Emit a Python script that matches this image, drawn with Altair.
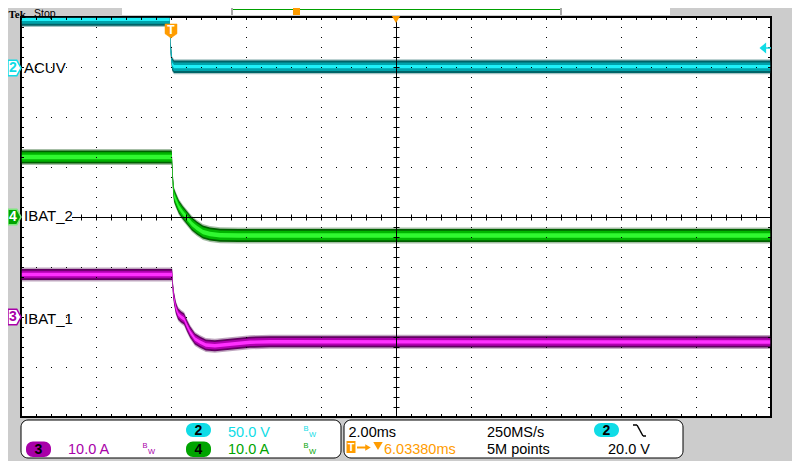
import altair as alt
import pandas as pd

# ---------------- scope settings ----------------
T_LEFT, T_RIGHT = -4.0, 16.0          # ms relative to trigger, 2.00 ms/div, 10 div
T_CENTER = 6.0                        # ms at screen centre (delay 6.03380 ms)
DIV_MIN, DIV_MAX = -4, 4              # 8 vertical divisions
H_GRID = [-3, -2, -1, 1, 2, 3]
T_GRID = [-2.0, 0.0, 2.0, 4.0, 8.0, 10.0, 12.0, 14.0]

CH_NAMES = ["ACUV", "IBAT_2", "IBAT_1"]
CH_NUMS = ["2", "4", "3"]
CH_SCALE = [50.0, 10.0, 10.0]         # V/div, A/div, A/div
CH_OFFSET = [2.98, 0.0, -2.0]         # ground marker position in divisions
TRIG_LEVEL = 20.0                     # V on channel 2

# channel 2 : ACUV (V)
acuv_t = [-4.0, -0.04, -0.01, 0.03, 0.08, 16.0]
acuv_v = [48.5, 48.5, 20.0, 4.0, 1.3, 1.3]
# channel 4 : IBAT_2 (A)
ibat2_t = [-4.0, 0.02, 0.05, 0.08, 0.13, 0.21, 0.32, 0.43, 0.56, 0.69, 0.85, 1.04, 1.31, 1.8, 16.0]
ibat2_a = [12.0, 12.0, 7.0, 4.4, 3.4, 2.0, 0.8, -0.2, -1.4, -2.2, -3.0, -3.4, -3.65, -3.7, -3.7]
# channel 3 : IBAT_1 (A)
ibat1_t = [-4.0, 0.03, 0.05, 0.08, 0.13, 0.19, 0.27, 0.35, 0.43, 0.51, 0.64, 0.77, 0.93, 1.17, 1.57, 2.11, 2.64, 16.0]
ibat1_a = [8.5, 8.5, 5.8, 3.8, 1.8, 0.6, 0.0, -0.4, -1.8, -3.0, -4.4, -5.0, -5.6, -5.75, -5.45, -5.05, -4.95, -5.0]

# readout texts
RO_CH2 = "50.0 V"
RO_CH3 = "10.0 A"
RO_CH4 = "10.0 A"
RO_TB = "2.00ms"
RO_RATE = "250MS/s"
RO_DELAY = "6.03380ms"
RO_POINTS = "5M points"
RO_TRIG = "20.0 V"

# ---------------- styles ----------------
SANS = "Liberation Sans, Arial, sans-serif"
PX_PER_DIV = 50.0
# half band thickness in px: haze, outer, mid, core
BAND_PX = {"ACUV": (7.5, 6.2, 4.2, 1.6), "IBAT_2": (8.0, 6.6, 4.8, 2.2), "IBAT_1": (7.0, 5.6, 3.8, 1.7)}
BAND_COL = {"ACUV": ("#005555", "#006468", "#00a2aa", "#1ff0f8"),
            "IBAT_2": ("#004400", "#006000", "#00b400", "#30f830"),
            "IBAT_1": ("#480048", "#620062", "#b000b0", "#ff30ff")}
BAND_OP = (0.35, 1.0, 1.0, 1.0)
CYAN, GREEN, MAG, ORANGE = "#10dce6", "#00a400", "#a800a8", "#ff9c00"

X0, Y0 = 21, 17            # page pixel of plot origin
W, H = 750, 400


def px(X):
    return X - X0


def py(Y):
    return Y - Y0


ONE = pd.DataFrame({"k": [0]})
XS = alt.Scale(domain=[T_LEFT, T_RIGHT], nice=False, zero=False)
YS = alt.Scale(domain=[DIV_MIN, DIV_MAX], nice=False, zero=False)


def text(s, X, Y, color="black", size=14.5, weight="normal", align="left",
         baseline="alphabetic", font=SANS):
    return alt.Chart(ONE).mark_text(text=s, align=align, baseline=baseline, font=font,
                                    fontSize=size, fontWeight=weight, color=color).encode(
        x=alt.value(px(X)), y=alt.value(py(Y)))


def rect(X1, X2, Y1, Y2, fill, stroke="", sw=1, r=0):
    kw = dict(fill=fill, cornerRadius=r)
    if stroke:
        kw.update(stroke=stroke, strokeWidth=sw)
    return alt.Chart(ONE).mark_rect(**kw).encode(
        x=alt.value(px(X1)), x2=alt.value(px(X2)), y=alt.value(py(Y1)), y2=alt.value(py(Y2)))


def seg(X1, Y1, X2, Y2, color, sw=1):
    return alt.Chart(ONE).mark_rule(color=color, strokeWidth=sw).encode(
        x=alt.value(px(X1)), x2=alt.value(px(X2)), y=alt.value(py(Y1)), y2=alt.value(py(Y2)))


layers = []

# ---------------- traces (intensity-graded bands) ----------------
rows = []
for name, ts, vs, sc, off in zip(CH_NAMES, [acuv_t, ibat2_t, ibat1_t],
                                 [acuv_v, ibat2_a, ibat1_a], CH_SCALE, CH_OFFSET):
    for t, v in zip(ts, vs):
        rows.append({"ch": name, "t": t, "div": v / sc + off})
trace = pd.DataFrame(rows)

for lvl in range(4):
    d = trace.copy()
    half = d["ch"].map(lambda c: BAND_PX[c][lvl] / PX_PER_DIV)
    d["top"] = d["div"] + half
    d["bot"] = d["div"] - half
    d["col"] = d["ch"].map(lambda c: BAND_COL[c][lvl])
    layers.append(alt.Chart(d).mark_area(orient="vertical", clip=True, interpolate="linear",
                                         opacity=BAND_OP[lvl]).encode(
        x=alt.X("t:Q", scale=XS, axis=None),
        y=alt.Y("top:Q", scale=YS, axis=None),
        y2="bot:Q",
        color=alt.Color("col:N", scale=None),
        detail="ch:N"))

# ---------------- graticule ----------------
layers.append(alt.Chart(pd.DataFrame({"d": H_GRID})).mark_rule(
    color="black", strokeWidth=1, strokeDash=[1, 14], yOffset=0.5).encode(
    y=alt.Y("d:Q", scale=YS, axis=None), x=alt.value(0), x2=alt.value(W)))
layers.append(alt.Chart(pd.DataFrame({"t": T_GRID})).mark_rule(
    color="black", strokeWidth=1, strokeDash=[1, 9], xOffset=0.5).encode(
    x=alt.X("t:Q", scale=XS, axis=None), y=alt.value(0), y2=alt.value(H)))
# centre cross
layers.append(alt.Chart(pd.DataFrame({"d": [0]})).mark_rule(
    color="black", strokeWidth=1, yOffset=0.5).encode(
    y=alt.Y("d:Q", scale=YS, axis=None), x=alt.value(0), x2=alt.value(W)))
layers.append(alt.Chart(pd.DataFrame({"d": [0]})).mark_rule(
    color="black", strokeWidth=6, strokeDash=[1, 14], yOffset=0.5).encode(
    y=alt.Y("d:Q", scale=YS, axis=None), x=alt.value(0), x2=alt.value(W)))
layers.append(alt.Chart(pd.DataFrame({"t": [T_CENTER]})).mark_rule(
    color="black", strokeWidth=1, xOffset=0.5).encode(
    x=alt.X("t:Q", scale=XS, axis=None), y=alt.value(0), y2=alt.value(H)))
layers.append(alt.Chart(pd.DataFrame({"t": [T_CENTER]})).mark_rule(
    color="black", strokeWidth=6, strokeDash=[1, 9], xOffset=0.5).encode(
    x=alt.X("t:Q", scale=XS, axis=None), y=alt.value(0), y2=alt.value(H)))
# edge ticks
for (a, b, c, d_, dash) in [(0, 1.5, W, 1.5, [1, 14]), (0, H - 1.5, W, H - 1.5, [1, 14]),
                            (1.5, 0, 1.5, H, [1, 9]), (W - 1.5, 0, W - 1.5, H, [1, 9])]:
    layers.append(alt.Chart(ONE).mark_rule(color="black", strokeWidth=3, strokeDash=dash).encode(
        x=alt.value(a), y=alt.value(b), x2=alt.value(c), y2=alt.value(d_)))
# border
layers.append(alt.Chart(ONE).mark_rect(fillOpacity=0, stroke="black", strokeWidth=1.5).encode(
    x=alt.value(0), x2=alt.value(W), y=alt.value(0), y2=alt.value(H)))

# ---------------- channel labels ----------------
layers.append(rect(22, 72, 209, 225, "white"))
layers.append(text("ACUV", 24, 73, size=15))
layers.append(text("IBAT_2", 24, 220.5, size=15))
layers.append(text("IBAT_1", 24, 324, size=15))

# ground markers on the left
MARK_PATH = "M-1,-1.2L0.35,-1.2L1,0L0.35,1.2L-1,1.2Z"
for num, off, fill, stroke, tcol in [("2", CH_OFFSET[0], "white", CYAN, CYAN),
                                     ("4", CH_OFFSET[1], GREEN, "#7ee87e", "white"),
                                     ("3", CH_OFFSET[2], "white", MAG, MAG)]:
    dd = pd.DataFrame({"d": [off]})
    layers.append(alt.Chart(dd).mark_point(shape=MARK_PATH, filled=True, fill=fill, stroke=stroke,
                                           strokeWidth=1.5, size=169, opacity=1).encode(
        x=alt.value(px(14.5)), y=alt.Y("d:Q", scale=YS, axis=None)))
    layers.append(alt.Chart(dd).mark_text(text=num, font=SANS, fontSize=14, fontWeight="bold",
                                          color=tcol, align="center", baseline="middle").encode(
        x=alt.value(px(13)), y=alt.Y("d:Q", scale=YS, axis=None)))

# trigger marker (T) at t = 0
T_PATH = "M-1,-1.17L1,-1.17L1,0.45L0,1.17L-1,0.45Z"
trig = pd.DataFrame({"t": [0.0]})
layers.append(alt.Chart(trig).mark_point(shape=T_PATH, filled=True, fill=ORANGE, stroke=ORANGE,
                                         strokeWidth=0.5, size=144, opacity=1).encode(
    x=alt.X("t:Q", scale=XS, axis=None), y=alt.value(py(31))))
layers.append(alt.Chart(trig).mark_text(text="T", font=SANS, fontSize=12, fontWeight="bold",
                                        color="white", align="center", baseline="middle").encode(
    x=alt.X("t:Q", scale=XS, axis=None), y=alt.value(py(30))))
# delay marker at screen centre
layers.append(alt.Chart(pd.DataFrame({"t": [T_CENTER]})).mark_point(
    shape="triangle-down", filled=True, fill=ORANGE, size=70, opacity=1).encode(
    x=alt.X("t:Q", scale=XS, axis=None), y=alt.value(py(19.5))))
# trigger level arrow on the right
lvl = pd.DataFrame({"d": [TRIG_LEVEL / CH_SCALE[0] + CH_OFFSET[0]]})
layers.append(alt.Chart(lvl).mark_point(shape="M-1,0L0.2,-1L0.2,1Z", filled=True, fill=CYAN,
                                        size=121, opacity=1).encode(
    x=alt.value(px(765)), y=alt.Y("d:Q", scale=YS, axis=None)))
layers.append(alt.Chart(lvl).mark_rule(color=CYAN, strokeWidth=1.5).encode(
    x=alt.value(px(766)), x2=alt.value(px(771)), y=alt.Y("d:Q", scale=YS, axis=None)))

# ---------------- top bar ----------------
layers.append(rect(122, 670, 0, 15, "white"))
layers.append(rect(231, 233, 1, 15, "#a8a8a8"))
layers.append(rect(560, 562, 1, 15, "#a8a8a8"))
layers.append(seg(233, 9.5, 560, 9.5, "#00a000", 1))
layers.append(rect(293, 300, 4, 15, ORANGE))
layers.append(text("Tek", 8.5, 17.5, size=11, weight="bold", font="Liberation Serif, DejaVu Serif, serif"))
layers.append(text("Stop", 34, 17, size=10.5))

# ---------------- bottom readout panel ----------------
layers.append(rect(21, 341, 420, 458, "white", stroke="black", sw=1, r=7))
layers.append(rect(344, 683, 420, 458, "white", stroke="black", sw=1, r=7))


def pill(X1, X2, Y1, Y2, fill, num):
    return [rect(X1, X2, Y1, Y2, fill, r=7),
            text(num, (X1 + X2) / 2, (Y1 + Y2) / 2 + 0.5, size=14, weight="bold",
                 align="center", baseline="middle")]


def bw(X, Yb, color):
    return [text("B", X, Yb, color=color, size=7.5), text("W", X + 5.5, Yb + 6, color=color, size=7.5)]


layers += pill(186, 211, 423, 437, CYAN, CH_NUMS[0])
layers.append(text(RO_CH2, 228, 436.5, color=CYAN))
layers += bw(303.5, 430.5, CYAN)
layers += pill(26, 51, 441.5, 457, MAG, CH_NUMS[2])
layers.append(text(RO_CH3, 68, 454, color=MAG))
layers += bw(142.5, 447.5, MAG)
layers += pill(186, 211, 441.5, 457, GREEN, CH_NUMS[1])
layers.append(text(RO_CH4, 228, 454, color=GREEN))
layers += bw(303.5, 447.5, GREEN)

layers.append(text(RO_TB, 348.5, 436.5))
layers.append(text(RO_RATE, 487, 436.5))
layers += pill(594, 619, 423, 437, CYAN, CH_NUMS[0])
layers.append(seg(633, 425, 637, 425, "black", 1.5))
layers.append(seg(637, 425, 643, 436, "black", 1.5))
layers.append(seg(643, 436, 646, 436, "black", 1.5))
layers.append(rect(346.5, 355.5, 441, 453, ORANGE))
layers.append(text("T", 351, 447.5, color="white", size=11, weight="bold", align="center",
                   baseline="middle"))
layers.append(seg(357, 447.5, 367, 447.5, ORANGE, 2))
layers.append(alt.Chart(ONE).mark_point(shape="triangle-right", filled=True, fill=ORANGE, size=40,
                                        opacity=1).encode(x=alt.value(px(368)), y=alt.value(py(447.5))))
layers.append(alt.Chart(ONE).mark_point(shape="triangle-down", filled=True, fill=ORANGE, size=90,
                                        opacity=1).encode(x=alt.value(px(378)), y=alt.value(py(446))))
layers.append(text(RO_DELAY, 384, 454, color=ORANGE))
layers.append(text(RO_POINTS, 487, 454))
layers.append(text(RO_TRIG, 608, 454))

chart = alt.layer(*layers).properties(
    width=W, height=H, background="#cccccc",
    autosize=alt.AutoSizeParams(type="none"),
    padding={"left": 13, "top": 9, "right": 21, "bottom": 44},
).configure_view(fill="white", stroke="black", strokeWidth=2)

chart.save("out.html", embed_options={"renderer": "svg", "actions": False})
